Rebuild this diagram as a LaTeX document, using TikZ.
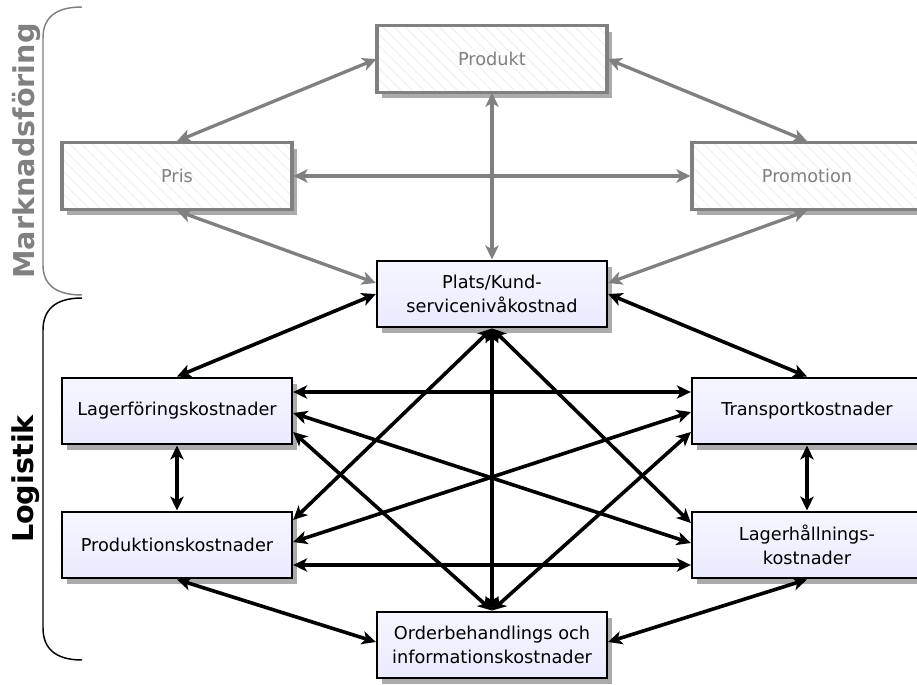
\documentclass[tikz,border=0pt]{standalone}
\usepackage{fontspec}
\setmainfont{DejaVu Sans}
\usepackage{xcolor}
\definecolor{markgray}{HTML}{808080}
\definecolor{lavtop}{HTML}{F6F6FF}
\definecolor{lavbottom}{HTML}{EAEAFE}
\definecolor{shadowgray}{HTML}{ABABAB}
\usetikzlibrary{arrows.meta, shadows, patterns.meta}

\begin{document}
\begin{tikzpicture}[x=0.75pt, y=-0.75pt,
    box/.style={minimum width=172.5pt, minimum height=50pt, inner sep=2pt, align=center,
        font=\fontsize{13.3}{18.5}\selectfont,
        drop shadow={shadow xshift=4pt, shadow yshift=-4.5pt, fill=shadowgray, opacity=1}},
    markbox/.style={box, draw=markgray, line width=2.3pt, text=markgray, preaction={fill=white},
        pattern={Lines[angle=-45, distance=6pt, line width=0.8pt]}, pattern color=gray!11},
    logbox/.style={box, draw=black, line width=1.7pt, top color=lavtop, bottom color=lavbottom},
    tip/.tip={Stealth[length=10.5pt, width=10pt, inset=2.8pt]},
    markarrow/.style={tip-tip, line width=2.5pt, draw=markgray},
    logarrow/.style={tip-tip, line width=2.7pt, draw=black}]
    \useasboundingbox (0,0) rectangle (917,685);
    % braces
    \draw[markgray, line width=1.1pt] (82,7) .. controls (55,7) and (43,18) .. (43,38)
        -- (43,265) .. controls (43,284) and (55,295) .. (82,295);
    \draw[line width=1.1pt] (82,298) .. controls (55,298) and (43,310) .. (43,330)
        -- (43,628) .. controls (43,648) and (55,660) .. (82,660);
    \node[rotate=90, font=\fontsize{21.5}{24}\selectfont\bfseries, text=markgray] (mark) at (26,151) {Marknadsföring};
    \node[rotate=90, font=\fontsize{21.5}{24}\selectfont\bfseries] (logi) at (26,479) {Logistik};
    % Marknadsföring
    \node[markbox] (produkt) at (492,59) {Produkt};
    \node[markbox] (pris) at (177,176) {Pris};
    \node[markbox] (promotion) at (807,176) {Promotion};
    % Logistik
    \node[logbox] (plats) at (492,294) {Plats/Kund-\\servicenivåkostnad};
    \node[logbox] (lager) at (177,411) {Lagerföringskostnader};
    \node[logbox] (transport) at (807,411) {Transportkostnader};
    \node[logbox] (produktion) at (177,545) {Produktionskostnader};
    \node[logbox] (lagerh) at (807,545) {Lagerhållnings-\\kostnader};
    \node[logbox] (order) at (492,645) {Orderbehandlings och\\informationskostnader};
    % gray arrows
    \foreach \a/\da/\b/\db in {produkt.west/0/pris.north/0, produkt.east/0/promotion.north/0,
        pris.east/0/promotion.west/0, produkt.south/0/plats.north/0,
        pris.south/0/plats.west/11, promotion.south/0/plats.east/11} {
        \draw[markarrow] ([yshift=\da*0.75pt]\a) -- ([yshift=\db*0.75pt]\b);
    }
    % black arrows
    \foreach \a/\da/\b/\db in {plats.west/0/lager.north/0, plats.east/0/transport.north/0,
        lager.east/19/transport.west/19, produktion.east/-20/lagerh.west/-20,
        lager.south/0/produktion.north/0, transport.south/0/lagerh.north/0,
        produktion.south/0/order.west/3, lagerh.south/0/order.east/3,
        plats.south/0/order.north/0, plats.south/0/produktion.east/25,
        plats.south/0/lagerh.west/22, lager.east/-2/lagerh.west/2,
        lager.east/-21/order.north/0, produktion.east/3/transport.west/-1,
        transport.west/-21/order.north/0} {
        \draw[logarrow] ([yshift=\da*0.75pt]\a) -- ([yshift=\db*0.75pt]\b);
    }
\end{tikzpicture}
\end{document}
